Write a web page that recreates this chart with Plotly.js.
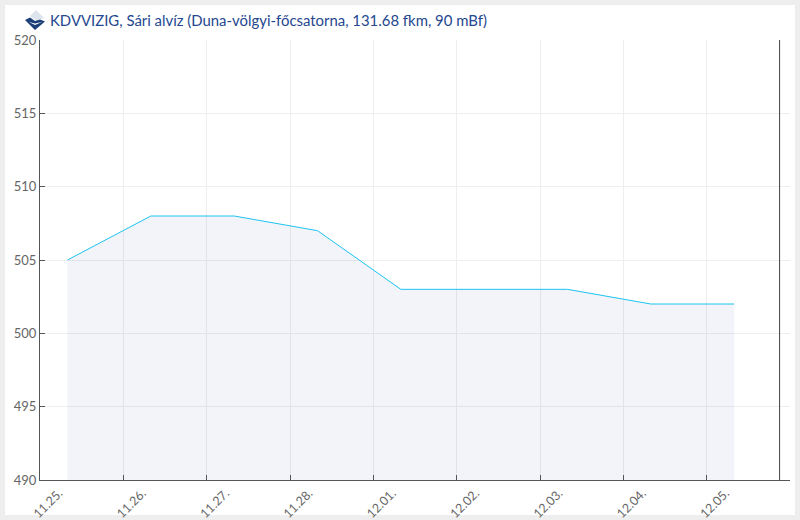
<!DOCTYPE html>
<html><head><meta charset="utf-8">
<script src="https://cdn.plot.ly/plotly-3.0.1.min.js"></script>
<style>
html,body{margin:0;padding:0;background:#eeeeee;width:800px;height:520px;overflow:hidden}
#card{position:absolute;left:5px;top:5px;width:790px;height:510px;background:#fff}
#chart{position:absolute;left:0;top:0;width:800px;height:520px}
</style></head><body>
<div id="card"></div><div id="chart"></div>
<script>
var dayPositions=[0.33,1.33,2.33,3.33,4.33,5.33,6.33,7.33,8.33];
var levels=[505,508,508,507,503,503,503,502,502];
var tickPositions=[0,1,2,3,4,5,6,7,8,9];
var tickLabels=['11.25.','11.26.','11.27.','11.28.','12.01.','12.02.','12.03.','12.04.','12.05.',''];
var yTicks=[490,495,500,505,510,515,520];
var nowPosition=8.875;
var titleText='KDVVIZIG, Sári alvíz (Duna-völgyi-főcsatorna, 131.68 fkm, 90 mBf)';
var logoSvg='<svg xmlns="http://www.w3.org/2000/svg" width="20" height="20" viewBox="0 0 20 20">'+
 '<path d="M11 0 L19 8 L11 10.5 L5 6 Z" fill="#dde4ee"/>'+
 '<path d="M0 10 L5 7.5 L10 11 L15 9.5 L20 11.5 L10 20 Z" fill="#1d3f78"/>'+
 '<path d="M4 12 L10 15 L17 12 L10 13.5 Z" fill="#ffffff"/></svg>';
var font='Lato, sans-serif';
Plotly.newPlot('chart',[{
  x:dayPositions,y:levels,type:'scatter',mode:'lines',
  line:{color:'#1cc3ef',width:1},
  fill:'tozeroy',fillcolor:'rgba(0,40,140,0.05)',hoverinfo:'skip'
}],{
  width:800,height:520,margin:{l:40,r:10,t:40,b:40},
  paper_bgcolor:'rgba(0,0,0,0)',plot_bgcolor:'rgba(0,0,0,0)',showlegend:false,
  font:{family:font,color:'#555555',size:13},
  title:{text:titleText,font:{family:font,size:14.9,color:'#24478f'},x:50/800,xanchor:'left',y:1-21/520,yanchor:'middle'},
  xaxis:{range:[0,9],tickmode:'array',tickvals:tickPositions,ticktext:tickLabels,tickangle:-45,
    ticks:'inside',ticklen:5,tickcolor:'#555555',tickwidth:1,ticklabelshift:19,
    showgrid:true,gridcolor:'#eeeeee',gridwidth:1,showline:true,linecolor:'#555555',linewidth:1,zeroline:false,
    tickfont:{family:font,size:12.5,color:'#666666'}},
  yaxis:{range:[490,520],tickmode:'array',tickvals:yTicks,ticks:'inside',ticklen:5,tickcolor:'#555555',tickwidth:1,
    showgrid:true,gridcolor:'#eeeeee',gridwidth:1,showline:true,linecolor:'#555555',linewidth:1,zeroline:false,
    tickfont:{family:font,size:13,color:'#666666'}},
  shapes:[{type:'line',xref:'x',yref:'paper',x0:nowPosition,x1:nowPosition,y0:0,y1:1,line:{color:'#444444',width:1}}],
  images:[{source:'data:image/svg+xml;utf8,'+encodeURIComponent(logoSvg),xref:'paper',yref:'paper',
    x:-15/750,y:1+30/440,sizex:20/750,sizey:20/440,xanchor:'left',yanchor:'top',sizing:'contain',layer:'above'}]
},{staticPlot:true,displayModeBar:false});
</script></body></html>
